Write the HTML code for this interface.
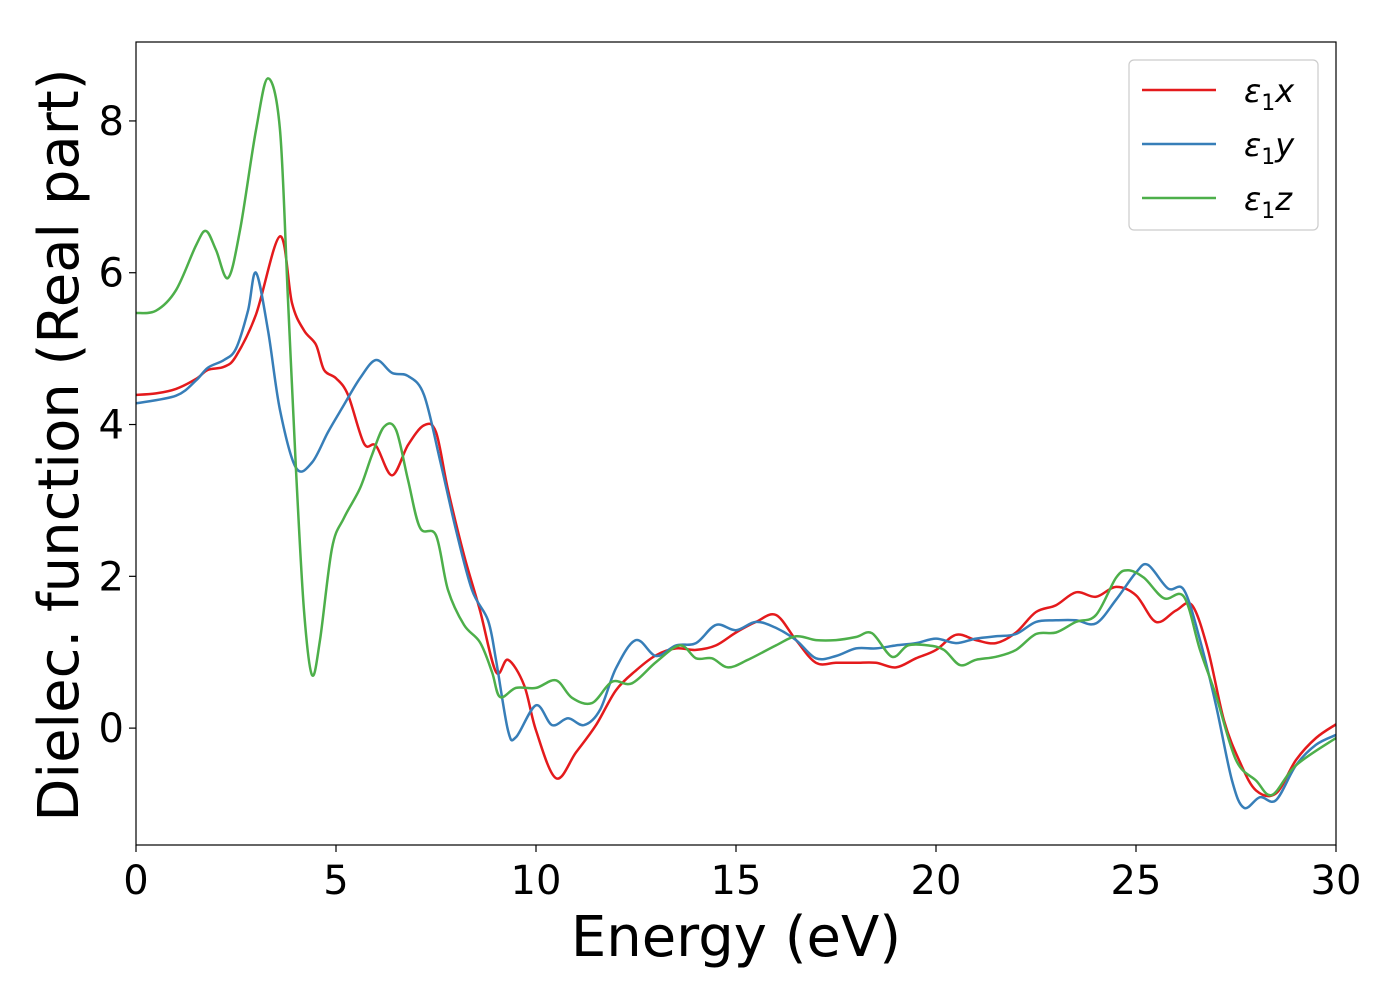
<!DOCTYPE html>
<html><head><meta charset="utf-8"><style>
html,body{margin:0;padding:0;background:#fff;}
svg text{font-family:"DejaVu Sans","Liberation Sans",sans-serif;}
</style></head><body>
<svg id="chart" width="1400" height="1000" xmlns="http://www.w3.org/2000/svg">
<rect x="0" y="0" width="1400" height="1000" fill="#fff"/>
<g id="series"></g>
<g id="axes"></g>
<rect x="136" y="42" width="1200" height="803" fill="none" stroke="#000" stroke-width="1.2"/>
<text x="736" y="956" font-size="56" text-anchor="middle">Energy (eV)</text>
<text x="0" y="0" font-size="56" text-anchor="middle" transform="translate(78,445) rotate(-90)">Dielec. function (Real part)</text>
<g>
<rect x="1129" y="60" width="189" height="170" rx="5" fill="#fff" stroke="#ccc" stroke-width="1.2"/>
<line x1="1142" y1="90" x2="1216" y2="90" stroke="#e41a1c" stroke-width="2.5"/>
<text x="1244" y="102" font-size="32" font-style="italic">ε<tspan font-size="22" font-style="normal" dy="8">1</tspan><tspan dy="-8">x</tspan></text>
<line x1="1142" y1="144" x2="1216" y2="144" stroke="#377eb8" stroke-width="2.5"/>
<text x="1244" y="156" font-size="32" font-style="italic">ε<tspan font-size="22" font-style="normal" dy="8">1</tspan><tspan dy="-8">y</tspan></text>
<line x1="1142" y1="198" x2="1216" y2="198" stroke="#4daf4a" stroke-width="2.5"/>
<text x="1244" y="210" font-size="32" font-style="italic">ε<tspan font-size="22" font-style="normal" dy="8">1</tspan><tspan dy="-8">z</tspan></text>
</g>
</svg>
<script>
const xTicks = [0,5,10,15,20,25,30];
const yTicks = [0,2,4,6,8];
const exE = [0,0.5,1,1.5,1.8,2.2,2.5,3,3.6,3.9,4.2,4.5,4.7,5,5.3,5.7,6,6.4,6.8,7.2,7.5,7.8,8.2,8.6,9,9.3,9.7,10,10.5,11,11.5,12,12.5,13,13.5,14,14.5,15,15.5,16,16.5,17,17.5,18,18.5,19,19.5,20,20.5,21,21.5,22,22.5,23,23.5,24,24.5,25,25.5,26,26.4,26.8,27.2,27.6,28,28.5,29,29.5,30];
const exV = [4.39,4.41,4.47,4.6,4.72,4.76,4.9,5.45,6.48,5.6,5.24,5.05,4.72,4.61,4.39,3.75,3.72,3.33,3.73,3.99,3.9,3.14,2.28,1.55,0.74,0.9,0.57,-0.03,-0.66,-0.32,0.04,0.5,0.76,0.96,1.05,1.03,1.09,1.26,1.4,1.49,1.16,0.86,0.86,0.86,0.86,0.8,0.92,1.03,1.23,1.16,1.12,1.26,1.53,1.62,1.79,1.73,1.86,1.75,1.4,1.55,1.62,1.03,0.1,-0.45,-0.82,-0.86,-0.42,-0.13,0.05];
const eyE = [0,1,1.5,1.8,2.2,2.5,2.8,3,3.3,3.6,4,4.4,4.8,5.2,5.6,6,6.4,6.8,7.2,7.6,8,8.4,8.8,9,9.3,9.5,10,10.4,10.8,11.2,11.6,12,12.5,13,13.5,14,14.5,15,15.5,16,16.5,17,17.5,18,18.5,19,19.5,20,20.5,21,21.5,22,22.5,23,23.5,24,24.5,25,25.3,25.8,26.2,26.6,27,27.4,27.7,28.1,28.5,29,29.5,30];
const eyV = [4.28,4.38,4.58,4.75,4.85,5.0,5.5,6.0,5.24,4.19,3.43,3.5,3.9,4.26,4.61,4.85,4.68,4.64,4.39,3.53,2.61,1.82,1.42,0.9,-0.03,-0.12,0.3,0.04,0.13,0.04,0.24,0.79,1.16,0.95,1.09,1.12,1.36,1.29,1.4,1.32,1.16,0.92,0.95,1.05,1.05,1.09,1.12,1.18,1.12,1.18,1.21,1.24,1.4,1.42,1.42,1.38,1.69,2.05,2.15,1.84,1.82,1.16,0.3,-0.69,-1.05,-0.91,-0.95,-0.49,-0.22,-0.09];
const ezE = [0,0.5,1,1.5,1.75,2,2.3,2.6,3,3.3,3.6,3.8,4,4.2,4.4,4.6,4.9,5.2,5.6,5.9,6.2,6.5,6.8,7.1,7.5,7.8,8.2,8.6,8.9,9.1,9.5,10,10.5,10.9,11.4,11.9,12.4,13,13.6,14,14.4,14.8,15.3,16,16.5,17,17.5,18,18.4,18.9,19.3,19.8,20.2,20.6,21,21.5,22,22.5,23,23.5,24,24.5,24.8,25.2,25.7,26.2,26.6,27,27.5,28,28.4,29,30];
const ezV = [5.47,5.5,5.77,6.36,6.55,6.3,5.93,6.56,7.88,8.56,7.88,5.64,3.4,1.55,0.7,1.16,2.37,2.77,3.16,3.6,3.97,3.93,3.27,2.64,2.54,1.82,1.36,1.13,0.74,0.41,0.53,0.53,0.63,0.4,0.33,0.61,0.59,0.87,1.09,0.92,0.92,0.8,0.9,1.09,1.21,1.16,1.16,1.2,1.25,0.94,1.09,1.09,1.03,0.83,0.9,0.94,1.03,1.24,1.26,1.4,1.49,1.98,2.08,1.98,1.71,1.73,1.03,0.43,-0.42,-0.69,-0.88,-0.49,-0.13];

const X0=136,X1=1336,Y0=845,Y1=42,XMIN=0,XMAX=30,YMIN=-1.54,YMAX=9.04;
function sx(v){return X0+(v-XMIN)/(XMAX-XMIN)*(X1-X0);}
function sy(v){return Y0-(v-YMIN)/(YMAX-YMIN)*(Y0-Y1);}
const NS="http://www.w3.org/2000/svg";
function pathFor(es,vs){
  const p=es.map((e,i)=>[sx(e),sy(vs[i])]);
  let d="M"+p[0][0].toFixed(1)+","+p[0][1].toFixed(1);
  for(let i=0;i<p.length-1;i++){
    const a=p[Math.max(i-1,0)],b=p[i],c=p[i+1],e=p[Math.min(i+2,p.length-1)];
    const c1=[b[0]+(c[0]-a[0])/6,b[1]+(c[1]-a[1])/6];
    const c2=[c[0]-(e[0]-b[0])/6,c[1]-(e[1]-b[1])/6];
    d+="C"+c1[0].toFixed(1)+","+c1[1].toFixed(1)+" "+c2[0].toFixed(1)+","+c2[1].toFixed(1)+" "+c[0].toFixed(1)+","+c[1].toFixed(1);
  }
  return d;
}
const sg=document.getElementById("series");
[["series-eps1-x",exE,exV,"#e41a1c"],["series-eps1-y",eyE,eyV,"#377eb8"],["series-eps1-z",ezE,ezV,"#4daf4a"]].forEach(s=>{
  const el=document.createElementNS(NS,"path");
  
  
  el.setAttribute("d",pathFor(s[1],s[2]));
  el.setAttribute("fill","none");el.setAttribute("stroke",s[3]);el.setAttribute("stroke-width","2.5");
  sg.appendChild(el);
});
const ag=document.getElementById("axes");
xTicks.forEach(t=>{
  const x=sx(t);
  const l=document.createElementNS(NS,"line");
  
  
  l.setAttribute("x1",x);l.setAttribute("x2",x);l.setAttribute("y1",Y0);l.setAttribute("y2",Y0+7);l.setAttribute("stroke","#000");l.setAttribute("stroke-width","1.2");
  ag.appendChild(l);
  const tx=document.createElementNS(NS,"text");
  
  
  tx.setAttribute("x",x);tx.setAttribute("y",Y0+49);tx.setAttribute("font-size","40");tx.setAttribute("text-anchor","middle");
  tx.textContent=t;ag.appendChild(tx);
});
yTicks.forEach(t=>{
  const y=sy(t);
  const l=document.createElementNS(NS,"line");
  
  
  l.setAttribute("x1",X0-7);l.setAttribute("x2",X0);l.setAttribute("y1",y);l.setAttribute("y2",y);l.setAttribute("stroke","#000");l.setAttribute("stroke-width","1.2");
  ag.appendChild(l);
  const tx=document.createElementNS(NS,"text");
  
  
  tx.setAttribute("x",X0-12);tx.setAttribute("y",y+14);tx.setAttribute("font-size","40");tx.setAttribute("text-anchor","end");
  tx.textContent=t;ag.appendChild(tx);
});
</script>
</body></html>
